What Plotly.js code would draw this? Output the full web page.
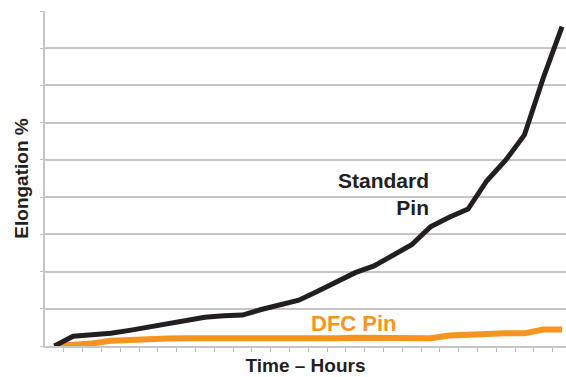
<!DOCTYPE html>
<html>
<head>
<meta charset="utf-8">
<script src="https://cdn.plot.ly/plotly-3.0.1.min.js"></script>
<style>html,body{margin:0;padding:0;background:#fff;}#chart{width:566px;height:377px;}</style>
</head>
<body>
<div id="chart"></div>
<script>
const hours = [0,1,2,3,4,5,6,7,8,9,10,11,12,13,14,15,16,17,18,19,20,21,22,23,24,25,26,27];
const standardPin = [0,0.26,0.30,0.34,0.42,0.51,0.60,0.69,0.77,0.81,0.83,0.98,1.10,1.23,1.47,1.71,1.97,2.15,2.42,2.72,3.20,3.46,3.68,4.44,4.99,5.67,7.20,8.58];
const dfcPin = [0,0.02,0.07,0.14,0.17,0.20,0.20,0.21,0.21,0.17,0.17,0.18,0.19,0.20,0.21,0.21,0.22,0.22,0.20,0.20,0.21,0.28,0.31,0.34,0.34,0.34,0.44,0.44];
const tickPositions = hours.map(h => h + 0.5);

const FONT = '"Liberation Sans", Arial, sans-serif';
const BLACK = '#231f20';
const ORANGE = '#f7941e';

const data = [
  {x: hours, y: dfcPin, type: 'scatter', mode: 'lines', name: 'DFC Pin',
   line: {color: ORANGE, width: 6}, hoverinfo: 'skip'},
  {x: hours, y: standardPin, type: 'scatter', mode: 'lines', name: 'Standard Pin',
   line: {color: BLACK, width: 5}, hoverinfo: 'skip'}
];

const layout = {
  width: 566, height: 377,
  margin: {l: 45, r: 0, t: 11, b: 31, pad: 0},
  paper_bgcolor: '#fff', plot_bgcolor: '#fff',
  showlegend: false,
  xaxis: {
    range: [-0.5, 27.21], tickmode: 'array', tickvals: tickPositions, showticklabels: false,
    ticks: 'outside', ticklen: 4, tickcolor: '#bdbdbd', tickwidth: 1,
    showgrid: false, zeroline: false, showline: true, linecolor: '#c6c6c6', linewidth: 2,
    title: {text: 'Time – Hours', font: {family: FONT, size: 19, color: BLACK, weight: 'bold'}, standoff: 8},
    automargin: false
  },
  yaxis: {
    range: [0, 9], dtick: 1, tick0: 0, showticklabels: false,
    ticks: 'outside', ticklen: 3, tickcolor: '#c6c6c6', tickwidth: 1,
    showgrid: true, gridcolor: '#c6c6c6', gridwidth: 2, zeroline: false,
    showline: true, linecolor: '#c6c6c6', linewidth: 2,
    title: {text: 'Elongation %', font: {family: FONT, size: 19, color: BLACK, weight: 'bold'}, standoff: 6},
    automargin: false
  },
  annotations: [
    {xref: 'paper', yref: 'paper', x: (431 - 45) / 521, y: (346 - 167) / 335, xanchor: 'right', yanchor: 'top',
     align: 'right', showarrow: false, text: 'Standard<br>Pin',
     font: {family: FONT, size: 21, color: BLACK, weight: 'bold'}},
    {xref: 'paper', yref: 'paper', x: (309 - 45) / 521, y: (346 - 309) / 335, xanchor: 'left', yanchor: 'top',
     showarrow: false, text: 'DFC Pin',
     font: {family: FONT, size: 22, color: ORANGE, weight: 'bold'}}
  ]
};

Plotly.newPlot('chart', data, layout, {staticPlot: true, displayModeBar: false});
</script>
</body>
</html>
